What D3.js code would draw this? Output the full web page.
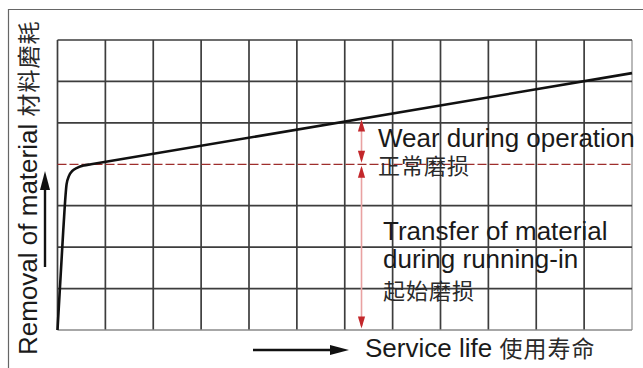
<!DOCTYPE html>
<html>
<head>
<meta charset="utf-8">
<script src="https://cdn.jsdelivr.net/npm/d3@7"></script>
<style>
  html, body { margin: 0; padding: 0; background: #fff; }
  svg { display: block; }
  text { fill: #1a1a1a; }
</style>
</head>
<body>
<svg id="chart" width="643" height="368"></svg>
<script>
// Grid divisions (service-life columns and material-removal rows)
const columnTicks = d3.range(0, 13);
const rowTicks = [0, 1, 2, 3, 5, 6, 7];

// Wear curve: steep running-in, then a slow linear rise during operation
const lifeValues = [0, 0.12, 0.19, 0.24, 0.31, 0.42, 0.55, 0.7, 12];
const removalValues = [0, 2.4, 3.52, 3.72, 3.84, 3.92, 3.97, 4.0, 6.2];

// Level where running-in ends
const runningInLevel = [4];

// Brace arrows: [life position, from level, to level]
const operationArrow = [6.35, 4.0, 5.12];
const runningInArrow = [6.35, 0.0, 4.0];

// Text labels
const axisLabelY = ["Removal of material", "材料磨耗"];
const axisLabelX = ["Service life", "使用寿命"];
const operationLabel = ["Wear during operation", "正常磨损"];
const runningInLabel = ["Transfer of material", "during running-in", "起始磨损"];

const LATIN = "'Liberation Sans', Arial, Helvetica, sans-serif";
const CJK = "'Noto Sans CJK SC', 'Noto Sans CJK TC', sans-serif";
const CJK_COLOR = "#2a2a2a";

const svg = d3.select("#chart");
const x = d3.scaleLinear().domain([0, 12]).range([57.5, 632]);
const y = d3.scaleLinear().domain([0, 7]).range([330, 40]);

// outer frame (top and left edges)
svg.append("path")
  .attr("d", "M8.5,368V9.5H643")
  .attr("fill", "none").attr("stroke", "#666").attr("stroke-width", 1.2);

// grid
const grid = svg.append("g");
grid.selectAll("line.v").data(columnTicks).join("line")
  .attr("x1", d => x(d)).attr("x2", d => x(d))
  .attr("y1", y(0)).attr("y2", y(7))
  .attr("stroke", d => d === 12 ? "#8a8a8a" : "#3d3d3d")
  .attr("stroke-width", d => d === 12 ? 1.2 : 1.7);
grid.selectAll("line.h").data(rowTicks).join("line")
  .attr("x1", x(0)).attr("x2", x(12))
  .attr("y1", d => y(d)).attr("y2", d => y(d))
  .attr("stroke", d => d === 0 ? "#8a8a8a" : "#3d3d3d")
  .attr("stroke-width", d => d === 0 ? 1.4 : 1.7);

// running-in level (dashed red)
svg.selectAll("line.level").data(runningInLevel).join("line")
  .attr("x1", x(0)).attr("x2", x(12))
  .attr("y1", d => y(d)).attr("y2", d => y(d))
  .attr("stroke", "#9e2e2c").attr("stroke-width", 1.3)
  .attr("stroke-dasharray", "9,3");

// wear curve
const pts = lifeValues.map((v, i) => [v, removalValues[i]]);
svg.append("path")
  .datum(pts)
  .attr("d", d3.line().x(d => x(d[0])).y(d => y(d[1])).curve(d3.curveMonotoneX))
  .attr("fill", "none").attr("stroke", "#111").attr("stroke-width", 2.6)
  .attr("stroke-linejoin", "round");

// double-headed red arrows
function doubleArrow(a) {
  const cx = x(a[0]), yb = y(a[1]), yt = y(a[2]);
  const g = svg.append("g");
  g.append("line").attr("x1", cx).attr("x2", cx)
    .attr("y1", yt + 4).attr("y2", yb - 4)
    .attr("stroke", "#e9a2a2").attr("stroke-width", 1.6);
  const hw = 3.6, hl = 12;
  g.append("path")
    .attr("d", `M${cx},${yt + 1.5}L${cx - hw},${yt + 1.5 + hl}L${cx + hw},${yt + 1.5 + hl}Z`)
    .attr("fill", "#c3272b");
  g.append("path")
    .attr("d", `M${cx},${yb - 1.5}L${cx - hw},${yb - 1.5 - hl}L${cx + hw},${yb - 1.5 - hl}Z`)
    .attr("fill", "#c3272b");
}
doubleArrow(operationArrow);
doubleArrow(runningInArrow);

// mixed-script label helper
function mixedText(sel, latin, cjk) {
  sel.append("tspan").attr("font-family", LATIN).attr("font-size", 26).text(latin + " ");
  sel.append("tspan").attr("font-family", CJK).attr("font-size", 23)
    .attr("letter-spacing", 1).style("fill", CJK_COLOR).text(cjk);
}

// y-axis title with arrow
const yt = svg.append("text").attr("transform", "translate(37,355) rotate(-90)");
mixedText(yt, axisLabelY[0], axisLabelY[1]);
svg.append("line").attr("x1", 45).attr("x2", 45).attr("y1", 267).attr("y2", 188)
  .attr("stroke", "#111").attr("stroke-width", 2.4);
svg.append("path").attr("d", "M45,171L40,190L50,190Z").attr("fill", "#111");

// x-axis title with arrow
const xt = svg.append("text").attr("x", 365).attr("y", 357);
mixedText(xt, axisLabelX[0], axisLabelX[1]);
svg.append("line").attr("x1", 253).attr("x2", 333).attr("y1", 350).attr("y2", 350)
  .attr("stroke", "#111").attr("stroke-width", 2.4);
svg.append("path").attr("d", "M349,350L330,345L330,355Z").attr("fill", "#111");

// annotation labels
svg.append("text").attr("x", 378).attr("y", 147)
  .attr("font-family", LATIN).attr("font-size", 26).text(operationLabel[0]);
svg.append("text").attr("x", 378).attr("y", 174)
  .attr("font-family", CJK).attr("font-size", 22).attr("letter-spacing", 1)
  .style("fill", CJK_COLOR).text(operationLabel[1]);
svg.append("text").attr("x", 383).attr("y", 240)
  .attr("font-family", LATIN).attr("font-size", 26).text(runningInLabel[0]);
svg.append("text").attr("x", 383).attr("y", 268)
  .attr("font-family", LATIN).attr("font-size", 26).text(runningInLabel[1]);
svg.append("text").attr("x", 383).attr("y", 299)
  .attr("font-family", CJK).attr("font-size", 22).attr("letter-spacing", 1)
  .style("fill", CJK_COLOR).text(runningInLabel[2]);
</script>
</body>
</html>
